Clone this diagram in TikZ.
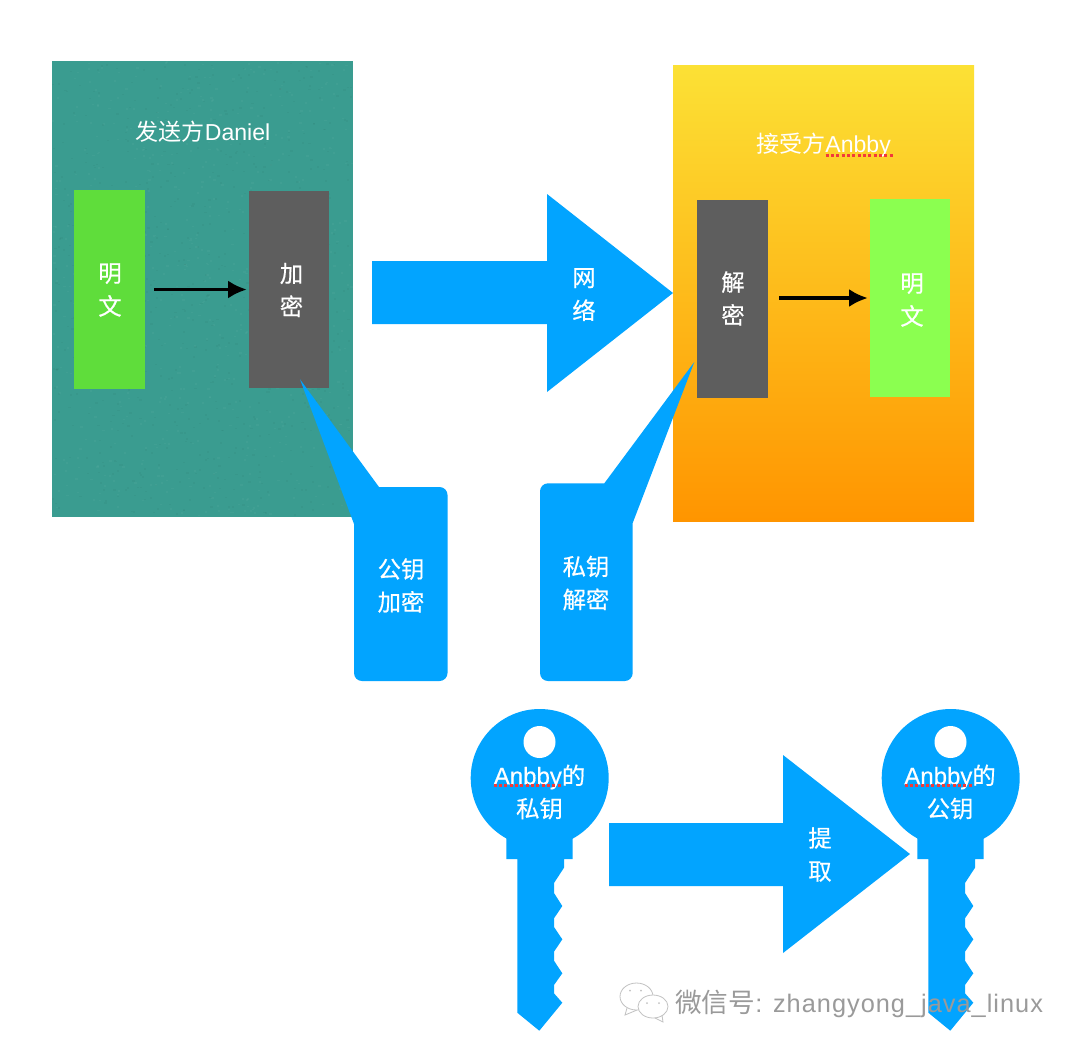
\documentclass[tikz,border=0pt]{standalone}
\usepackage{fontspec}
\setmainfont{Liberation Sans}
\newfontfamily\cjk{Noto Sans CJK SC}
\newfontfamily\cjkb[FakeBold=0.5]{Noto Sans CJK SC}
\newfontfamily\latb[FakeBold=0.4]{Liberation Sans}
\usetikzlibrary{arrows.meta}
\definecolor{keyblue}{HTML}{02A4FF}
\definecolor{teal1}{HTML}{3A9C90}
\definecolor{grayb}{HTML}{5E5E5E}
\definecolor{green1}{HTML}{5FDD3B}
\definecolor{green2}{HTML}{8BFF50}
\definecolor{ytop}{HTML}{FCE135}
\definecolor{ybot}{HTML}{FF9500}
\definecolor{redline}{HTML}{F23A3A}
\definecolor{wm}{HTML}{9A9A9A}
\tikzset{
  box/.style={inner sep=0pt,minimum width=#1},
  lbl/.style={text=white,align=center,inner sep=0pt,font=\fontsize{17.5}{24.75}\selectfont\cjkb},
  title/.style={text=white,inner sep=0pt,font=\fontsize{17.3}{20}\selectfont},
  flow/.style={-{Latex[length=14pt,width=13.5pt]},line width=2.4pt,black},
  spell/.style={redline,line width=1.6pt,dash pattern=on 2.4pt off 1.6pt},
  bubble/.style={draw=wm!60,fill=white,line width=.6pt},
}
\newcommand{\keyshape}[1]{%
  \begin{scope}[shift={(#1,0)}]
  \fill[keyblue] (517.3,859) -- (506.3,859) -- (506.3,838) -- (572.7,838) -- (572.7,859) -- (564,859)
    -- (564,867.7) -- (554,883) -- (554,893) -- (562.3,906) -- (554,918.3) -- (554,927) -- (562.3,939.3)
    -- (554,951.7) -- (554,960.7) -- (562.3,973.3) -- (554,985) -- (554,993.3) -- (562.3,1002.7)
    -- (539.3,1030.7) -- (517.3,1012.7) -- cycle;
  \fill[keyblue] (539.7,778) circle (69);
  \fill[white] (539.5,742) circle (16);
  \end{scope}}
\begin{document}
\begin{tikzpicture}[x=0.75pt,y=-0.75pt]
\useasboundingbox (0,0) rectangle (1080,1054);
\fill[white] (0,0) rectangle (1080,1054);
% sender panel
\fill[teal1] (52,61) rectangle (353,517);
\pgfmathsetseed{7}
\foreach \i in {1,...,1400}{
  \pgfmathsetmacro{\px}{52+rnd*299}
  \pgfmathsetmacro{\py}{61+rnd*454}
  \pgfmathsetmacro{\pc}{rnd<.5?"black":"white"}
  \fill[\pc,opacity=.03] (\px,\py) rectangle ++(2.2,1.6);
}
% receiver panel
\shade[top color=ytop,bottom color=ybot] (673,65) rectangle (974,521);
% titles
\node[title] (sendtitle) at (203,131.5) {{\cjk 发送方}Daniel};
\node[title] (recvtitle) at (823.5,145.5) {{\cjk 接受方}Anbby};
% boxes
\node[box=53.25pt,fill=green1,minimum height=149.25pt] (plain) at (109.5,289.5) {};
\node[box=60pt,fill=grayb,minimum height=147.75pt] (enc) at (289,289.5) {};
\node[box=53.25pt,fill=grayb,minimum height=148.5pt] (dec) at (732.5,299) {};
\node[box=60pt,fill=green2,minimum height=148.5pt] (plainb) at (910,298) {};
\node[lbl] (plaintxt) at (110,290) {明\\文};
\node[lbl] (enctxt) at (291.5,290) {加\\密};
\node[lbl] (dectxt) at (733,298.5) {解\\密};
\node[lbl] (plainbtxt) at (912,300) {明\\文};
\draw[flow,shorten <=6.75pt,shorten >=1.5pt] (plain.east) -- (enc.west);
\draw[flow,shorten <=8.25pt,shorten >=1.5pt] (dec.east |- plainb.west) -- (plainb.west);
% network arrow
\fill[keyblue] (372,261) -- (547,261) -- (547,194) -- (673,293) -- (547,392) -- (547,324) -- (372,324) -- cycle;
\node[lbl] (net) at (584,294.5) {网\\络};
% callouts
\fill[keyblue] (300,379.3) -- (379,487) -- (439.5,487) arc[start angle=-90,end angle=0,radius=8] -- (447.5,673)
  arc[start angle=0,end angle=90,radius=8] -- (362,681) arc[start angle=90,end angle=180,radius=8] -- (354,524) -- cycle;
\node[lbl] (pubenc) at (401,585.5) {公钥\\加密};
\fill[keyblue] (694.3,362) -- (604.3,483.3) -- (548,483.3) arc[start angle=-90,end angle=-180,radius=8] -- (540,673)
  arc[start angle=180,end angle=90,radius=8] -- (624.7,681) arc[start angle=90,end angle=0,radius=8] -- (632.7,523) -- cycle;
\node[lbl] (privdec) at (586,583) {私钥\\解密};
% keys
\keyshape{0}
\keyshape{411}
\node[lbl] (keya) at (539.5,792) {{\latb\fontsize{18}{24.75}\selectfont Anbby}的\\私钥};
\node[lbl] (keyb) at (950,792) {{\latb\fontsize{18}{24.75}\selectfont Anbby}的\\公钥};
% extract arrow
\fill[keyblue] (609,823) -- (783,823) -- (783,755) -- (910,854) -- (783,953) -- (783,886) -- (609,886) -- cycle;
\node[lbl] (extract) at (820,854.5) {提\\取};
% spell-check underlines
\draw[spell] (825.5,155.5) -- (893,155.5);
\draw[spell] (493.5,785.5) -- (561.5,785.5);
\draw[spell] (904.5,785.5) -- (972.5,785.5);
% watermark
\draw[bubble] (627,1008) -- (625,1015) -- (637,1010);
\draw[bubble] (636.5,996.5) ellipse (16.5 and 13.5);
\fill[wm!60] (630,990.5) circle (1) (641,990.5) circle (1);
\draw[bubble] (653,1006.5) ellipse (15 and 11.5);
\draw[bubble,fill=none] (655,1018) -- (663,1022) -- (662,1015);
\fill[wm!60] (647,1003) circle (1) (659,1003) circle (1);
\node[text=wm,inner sep=0pt,anchor=west,font=\fontsize{19}{20}\selectfont] (mark) at (675,1003.5) {{\cjk\fontsize{20}{20}\selectfont 微信号}{\addfontfeature{LetterSpace=4}: zhangyong\_java\_linux}};
\end{tikzpicture}
\end{document}
